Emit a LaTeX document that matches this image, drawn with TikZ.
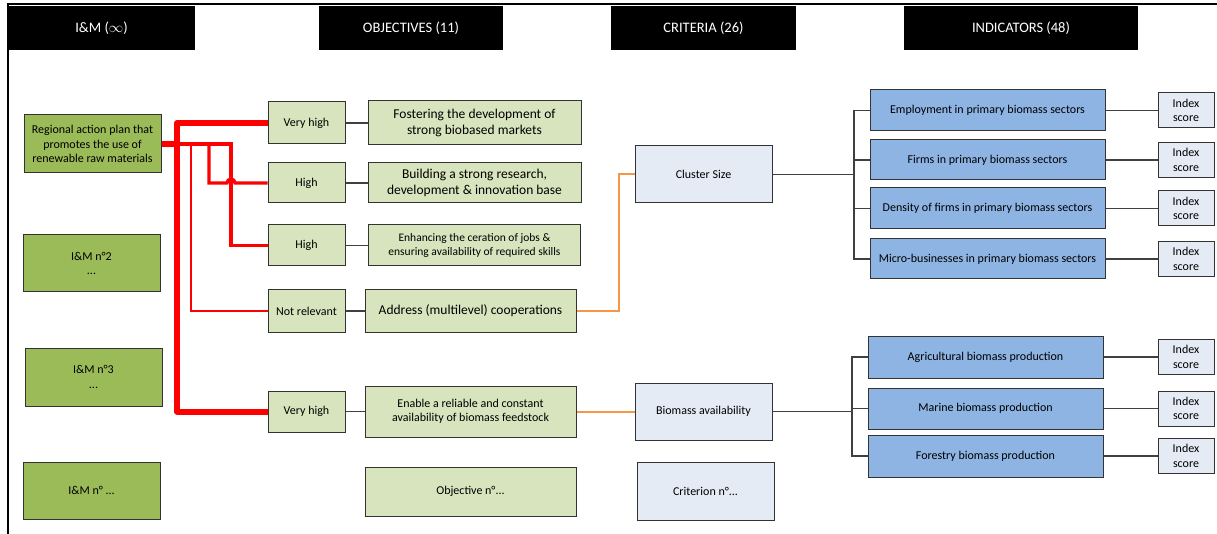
\documentclass[tikz,border=0pt]{standalone}
\usepackage{fontspec}
\setmainfont{Carlito}
\usepackage{xcolor}
\usetikzlibrary{arrows.meta}
\definecolor{imgreen}{HTML}{9BBB59}
\definecolor{objgreen}{HTML}{D7E4BD}
\definecolor{critblue}{HTML}{E4EBF5}
\definecolor{indblue}{HTML}{8DB4E2}
\definecolor{linkgray}{HTML}{404040}
\definecolor{orangeln}{HTML}{F79646}
\tikzset{
	basebox/.style={draw=black!80, line width=1pt, align=center, inner sep=1pt, font=\fontsize{12}{14.5}\selectfont},
	hdbox/.style={fill=black, text=white, minimum height=44pt, inner sep=0pt, font=\fontsize{14.5}{16}\selectfont},
	imbox/.style={basebox, fill=imgreen, minimum width=137pt},
	prio/.style={basebox, fill=objgreen, minimum width=77pt},
	objbox/.style={basebox, fill=objgreen},
	critbox/.style={basebox, fill=critblue, minimum width=137pt},
	indbox/.style={basebox, fill=indblue, minimum width=235pt},
	scorebox/.style={basebox, fill=critblue, minimum width=56pt, minimum height=35pt},
	conn/.style={draw=linkgray, line width=1.3pt},
	redthick/.style={draw=red, line width=6pt, line join=round},
	redmid/.style={draw=red, line width=3.2pt},
	redthin/.style={draw=red, line width=1.3pt},
	orangeconn/.style={draw=orangeln, line width=2pt}
}
\begin{document}
\begin{tikzpicture}[x=1pt, y=-1pt]
			\useasboundingbox (0,0) rectangle (1217,534);
			\draw[line width=1.3pt] (8,534) -- (8,4) -- (1217,4);
			\node[hdbox, minimum width=187pt] (hdIM) at (101.5,28) {I\&M ($\infty$)};
			\node[hdbox, minimum width=184pt] (hdObj) at (411,28) {OBJECTIVES (11)};
			\node[hdbox, minimum width=185pt] (hdCrit) at (703.5,28) {CRITERIA (26)};
			\node[hdbox, minimum width=234pt] (hdInd) at (1021,28) {INDICATORS (48)};
			% I&M
			\node[imbox, minimum height=58pt] (im1) at (92.5,144) {Regional action plan that\\promotes the use of\\renewable raw materials};
			\node[imbox, minimum height=57pt] (im2) at (91.5,263.5) {I\&M n°2\\...};
			\node[imbox, minimum height=58pt] (im3) at (93.5,377) {I\&M n°3\\...};
			\node[imbox, minimum height=57pt] (im4) at (91.5,490.5) {I\&M n° ...};
			% priorities
			\node[prio, minimum height=42pt] (vh1) at (306.5,123) {Very high};
			\node[prio, minimum height=40pt] (hi1) at (306.5,183) {High};
			\node[prio, minimum height=41pt] (hi2) at (306.5,245.5) {High};
			\node[prio, minimum height=42pt] (nr) at (306.5,311) {Not relevant};
			\node[prio, minimum height=41pt] (vh2) at (306.5,411.5) {Very high};
			% objectives
			\node[objbox, minimum width=213pt, minimum height=44pt, font=\fontsize{13.5}{16.5}\selectfont] (ob1) at (474.5,123) {Fostering the development of\\strong biobased markets};
			\node[objbox, minimum width=213pt, minimum height=40pt, font=\fontsize{13.5}{16.5}\selectfont] (ob2) at (474.5,183) {Building a strong research,\\development \& innovation base};
			\node[objbox, minimum width=212pt, minimum height=41pt, font=\fontsize{11.5}{14}\selectfont] (ob3) at (474.5,245.5) {Enhancing the ceration of jobs \&\\ensuring availability of required skills};
			\node[objbox, minimum width=211pt, minimum height=42pt, font=\fontsize{13.5}{16}\selectfont] (ob4) at (470.5,311) {Address (multilevel) cooperations};
			\node[objbox, minimum width=211pt, minimum height=51pt] (ob5) at (470.5,411.5) {Enable a reliable and constant\\availability of biomass feedstock};
			\node[objbox, minimum width=211pt, minimum height=49pt] (ob6) at (470.5,491.5) {Objective n°...};
			% criteria
			\node[critbox, minimum height=57pt] (cr1) at (703.5,174.5) {Cluster Size};
			\node[critbox, minimum height=57pt] (cr2) at (703.5,411.5) {Biomass availability};
			\node[critbox, minimum height=58pt] (cr3) at (705.5,491) {Criterion n°...};
			% indicators
			\node[indbox, minimum height=41pt] (in1) at (987.5,110.5) {Employment in primary biomass sectors};
			\node[indbox, minimum height=40pt] (in2) at (987.5,160) {Firms in primary biomass sectors};
			\node[indbox, minimum height=41pt] (in3) at (987.5,208.5) {Density of firms in primary biomass sectors};
			\node[indbox, minimum height=40pt] (in4) at (987.5,259) {Micro-businesses in primary biomass sectors};
			\node[indbox, minimum height=42pt] (in5) at (985.5,357) {Agricultural biomass production};
			\node[indbox, minimum height=41pt] (in6) at (985.5,408.5) {Marine biomass production};
			\node[indbox, minimum height=42pt] (in7) at (985.5,456) {Forestry biomass production};
			\foreach \i/\y in {1/110.5, 2/160, 3/208.5, 4/259, 5/357, 6/408.5, 7/456}
				\node[scorebox] (sc\i) at (1186,\y) {Index\\score};
			% connectors
			\coordinate (busA) at (177,144);
			\coordinate (busB) at (209,144);
			\coordinate (busC) at (231,144);
			\coordinate (busD) at (191,144);
			\coordinate (hop) at (227,183);
			\coordinate (kink) at (619,311);
			\coordinate (splitA) at (854,174.5);
			\coordinate (splitB) at (852,411.5);
			\draw[redthin] (busD) |- (nr.west);
			\draw[redmid] (im1.east) -- (busC) |- (hi2.west);
			\draw[redmid] (busB) |- (hop) arc[start angle=180, end angle=0, radius=4pt] -- (hi1.west);
			\draw[redthick] (vh1.west) -| (busA) |- (vh2.west);
			\draw[redthick] (im1.east) -- (busA);
			\foreach \a/\b in {vh1/ob1, hi1/ob2, hi2/ob3, nr/ob4, vh2/ob5}
				\draw[conn] (\a.east) -- (\b.west);
			\draw[orangeconn] (ob4.east) -- (kink) |- (cr1.west);
			\draw[orangeconn] (ob5.east) -- (cr2.west);
			\draw[conn] (cr1.east) -- (splitA);
			\draw[conn] (cr2.east) -- (splitB);
			\foreach \n in {in1, in2, in3, in4}
				\draw[conn] (splitA) |- (\n.west);
			\foreach \n in {in5, in6, in7}
				\draw[conn] (splitB) |- (\n.west);
			\foreach \i in {1,...,7}
				\draw[conn] (in\i.east) -- (sc\i.west);
		\end{tikzpicture}
\end{document}
